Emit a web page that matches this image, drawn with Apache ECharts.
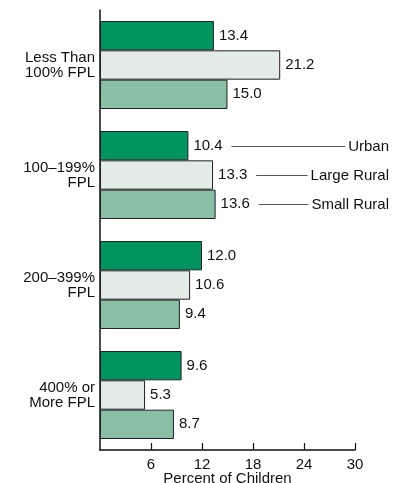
<!DOCTYPE html>
<html>
<head>
<meta charset="utf-8">
<script src="https://cdn.jsdelivr.net/npm/echarts@6/dist/echarts.min.js"></script>
<style>
  html, body { margin: 0; padding: 0; background: #fff; }
  #main { width: 394px; height: 483px; }
</style>
</head>
<body>
<div id="main"></div>
<script>
// Income groups (top to bottom)
const categories = ['Less Than\n100% FPL', '100–199%\nFPL', '200–399%\nFPL', '400% or\nMore FPL'];

// Percent of children, by residence
const seriesNames = ['Urban', 'Large Rural', 'Small Rural'];
const urban = [13.4, 10.4, 12.0, 9.6];
const largeRural = [21.2, 13.3, 10.6, 5.3];
const smallRural = [15.0, 13.6, 9.4, 8.7];

// x-axis scale
const axisMin = 0;
const axisMax = 30;
const axisStep = 6;

// Which category row carries the series callouts
const calloutIndex = 1;

const FONT = "'Liberation Sans', Arial, Helvetica, sans-serif";
const colors = ['#00945e', '#e3ece7', '#88bfa5'];
const values = [urban, largeRural, smallRural];

const chart = echarts.init(document.getElementById('main'), null, { renderer: 'canvas' });

const option = {
  animation: false,
  grid: {
    left: 100, right: 39, top: 10, bottom: 33,
    containLabel: false,
    outerBoundsMode: 'none'
  },
  xAxis: {
    type: 'value',
    min: axisMin,
    max: axisMax,
    interval: axisStep,
    name: 'Percent of Children',
    nameLocation: 'middle',
    nameGap: 21,
    nameMoveOverlap: false,
    nameTextStyle: { fontFamily: FONT, fontSize: 15, color: '#111', verticalAlign: 'top' },
    axisLine: { show: true, lineStyle: { color: '#111', width: 1.5 } },
    axisTick: { show: true, inside: true, length: 7, lineStyle: { color: '#111', width: 1.2 } },
    axisLabel: { showMinLabel: false, margin: 7, fontFamily: FONT, fontSize: 15, color: '#111' },
    splitLine: { show: false }
  },
  yAxis: {
    type: 'category',
    inverse: true,
    data: categories,
    axisLine: { show: true, lineStyle: { color: '#111', width: 1.5 } },
    axisTick: { show: false },
    axisLabel: {
      margin: 5,
      fontFamily: FONT,
      fontSize: 15,
      lineHeight: 15,
      color: '#111',
      align: 'right'
    }
  },
  series: values.map((vals, i) => ({
    name: seriesNames[i],
    type: 'bar',
    data: vals,
    barGap: '0%',
    barCategoryGap: '20%',
    itemStyle: { color: colors[i], borderColor: '#222', borderWidth: 1 },
    label: {
      show: true,
      position: 'right',
      distance: 5,
      fontFamily: FONT,
      fontSize: 15,
      color: '#111',
      formatter: p => p.value.toFixed(1)
    }
  }))
};

chart.setOption(option);

// Callout lines naming each series, drawn beside the bars of one row
function textWidth(str) {
  const ctx = document.createElement('canvas').getContext('2d');
  ctx.font = '15px ' + FONT;
  return ctx.measureText(str).width;
}

function addCallouts() {
  const model = chart.getModel();
  const rightEdge = 389;
  const elements = [];
  seriesNames.forEach((name, i) => {
    const layout = model.getSeriesByIndex(i).getData().getItemLayout(calloutIndex);
    const yMid = Math.round(layout.y + layout.height / 2) + 0.5;
    const barEnd = layout.x + layout.width;
    const tw = textWidth(name);
    const lineStart = barEnd + 43;
    const lineEnd = rightEdge - tw - 3;
    elements.push({
      type: 'line',
      shape: { x1: lineStart, y1: yMid, x2: lineEnd, y2: yMid },
      style: { stroke: '#555', lineWidth: 1 },
      silent: true
    });
    elements.push({
      type: 'text',
      x: rightEdge,
      y: yMid,
      style: {
        text: name,
        font: '15px ' + FONT,
        fill: '#111',
        align: 'right',
        verticalAlign: 'middle'
      },
      silent: true
    });
  });
  chart.setOption({ graphic: elements });
}

addCallouts();
</script>
</body>
</html>
